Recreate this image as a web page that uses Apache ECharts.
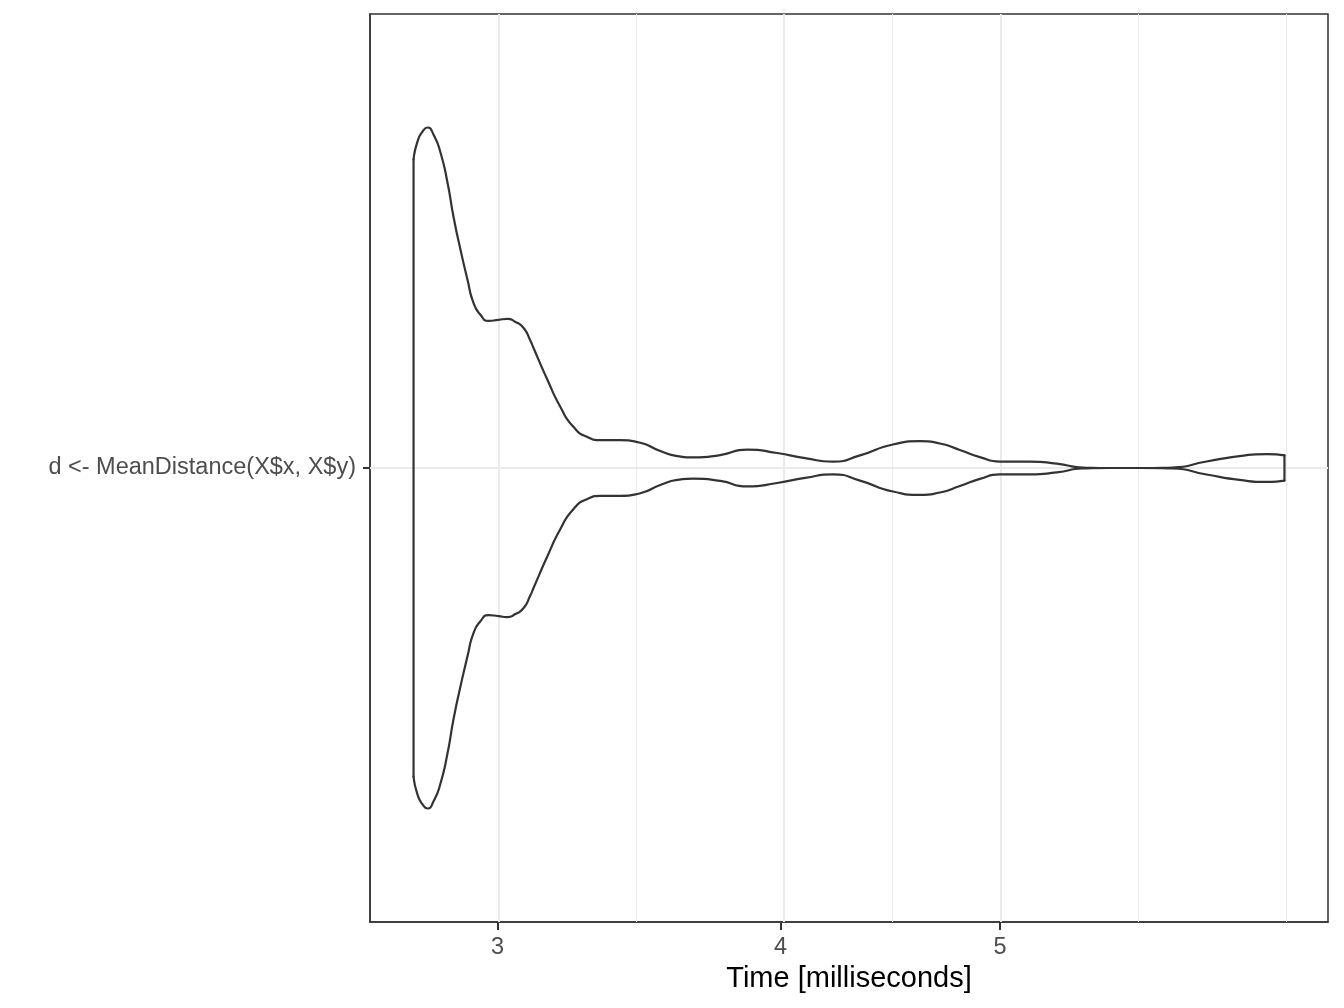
<!DOCTYPE html>
<html>
<head>
<meta charset="utf-8">
<script src="https://cdn.jsdelivr.net/npm/echarts@6/dist/echarts.min.js"></script>
<style>html,body{margin:0;padding:0;background:#fff}#c{width:1344px;height:1008px}</style>
</head>
<body>
<div id="c"></div>
<script>
// ---- data ----
const categories = ['d <- MeanDistance(X$x, X$y)'];
// time in milliseconds along the violin outline
const timeMs = [2.7547, 2.7659, 2.7800, 2.7942, 2.8113, 2.8313, 2.8515, 2.8689, 2.8894, 2.9100,
  2.9278, 2.9486, 2.9727, 3.0030, 3.0306, 3.0553, 3.0803, 3.1022, 3.1117, 3.1562,
  3.1982, 3.2406, 3.2870, 3.3307, 3.3990, 3.4688, 3.5399, 3.6015, 3.6605, 3.7622,
  3.8668, 3.9864, 4.1013, 4.2196, 4.3369, 4.4847, 4.6093, 4.7039, 4.8003, 4.8988,
  4.9993, 5.1539, 5.2971, 5.4387, 5.5899, 5.7627, 5.9591, 6.1683, 6.3785, 6.5558,
  6.6766];
// relative density (violin half-width, max = 1)
const density = [0.906, 0.959, 0.988, 1.000, 0.979, 0.926, 0.838, 0.738, 0.641, 0.553,
  0.485, 0.450, 0.432, 0.435, 0.438, 0.429, 0.412, 0.374, 0.353, 0.259,
  0.179, 0.121, 0.091, 0.082, 0.082, 0.074, 0.050, 0.035, 0.031, 0.038,
  0.054, 0.044, 0.029, 0.019, 0.037, 0.069, 0.079, 0.072, 0.053, 0.032,
  0.019, 0.019, 0.013, 0.0015, 0, 0, 0.0015, 0.019, 0.035, 0.041,
  0.037];
const majorTicks = [3, 4, 5];
const minorBreaks = [3.4641, 4.4721, 5.7735, 6.6667];

// ---- build ----
const halfWidth = 0.45;
const yMin = -0.6, yMax = 0.6;
const lnT = timeMs.map(Math.log);
const lo = lnT[0], hi = lnT[lnT.length - 1];
const ext = (hi - lo) * 0.05;
const upper = lnT.map((x, i) => [x, halfWidth * density[i]]);
const lower = lnT.map((x, i) => [x, -halfWidth * density[i]]);
const n = lnT.length - 1;
const lineColor = '#333333';

const gridLines = [];
majorTicks.forEach(v => gridLines.push({xAxis: Math.log(v), lineStyle: {color: '#EBEBEB', width: 2, type: 'solid'}}));
minorBreaks.forEach(v => gridLines.push({xAxis: Math.log(v), lineStyle: {color: '#EBEBEB', width: 1, type: 'solid'}}));
gridLines.push({yAxis: 0, lineStyle: {color: '#EBEBEB', width: 2, type: 'solid'}});

const violinLine = {color: lineColor, width: 2.2, join: 'round', cap: 'round'};
const chart = echarts.init(document.getElementById('c'), null, {renderer: 'canvas'});
chart.setOption({
  animation: false,
  backgroundColor: '#ffffff',
  grid: {left: 370, right: 16, top: 14, bottom: 86, show: true, borderColor: '#333333', borderWidth: 1.5, backgroundColor: 'transparent'},
  xAxis: {
    type: 'value', min: lo - ext, max: hi + ext,
    name: 'Time [milliseconds]', nameLocation: 'middle', nameGap: 42,
    nameTextStyle: {fontFamily: 'Liberation Sans', fontSize: 29, color: '#000000'},
    axisLine: {show: true, onZero: false, lineStyle: {color: '#333333', width: 1.5}},
    axisTick: {show: true, length: 8, customValues: majorTicks.map(Math.log), lineStyle: {color: '#333333', width: 2}},
    axisLabel: {show: true, customValues: majorTicks.map(Math.log), margin: 14,
      formatter: v => String(Math.round(Math.exp(v))),
      fontFamily: 'Liberation Sans', fontSize: 23.5, color: '#4D4D4D'},
    splitLine: {show: false}
  },
  yAxis: {
    type: 'value', min: yMin, max: yMax,
    axisLine: {show: true, onZero: false, lineStyle: {color: '#333333', width: 1.5}},
    axisTick: {show: true, length: 7, customValues: [0], lineStyle: {color: '#333333', width: 2}},
    axisLabel: {show: true, customValues: [0], margin: 14, formatter: () => categories[0],
      fontFamily: 'Liberation Sans', fontSize: 23.5, color: '#4D4D4D'},
    splitLine: {show: false}
  },
  series: [
    {type: 'line', data: [[lo, 0]], symbol: 'none', lineStyle: {width: 0}, z: 1, silent: true,
     markLine: {silent: true, symbol: ['none', 'none'], label: {show: false}, animation: false, data: gridLines}},
    {type: 'line', data: upper, smooth: 0.6, symbol: 'none', lineStyle: violinLine, z: 5},
    {type: 'line', data: lower, smooth: 0.6, symbol: 'none', lineStyle: violinLine, z: 5},
    {type: 'line', data: [upper[0], lower[0]], symbol: 'none', lineStyle: violinLine, z: 5},
    {type: 'line', data: [upper[n], lower[n]], symbol: 'none', lineStyle: violinLine, z: 5}
  ]
});
</script>
</body>
</html>
